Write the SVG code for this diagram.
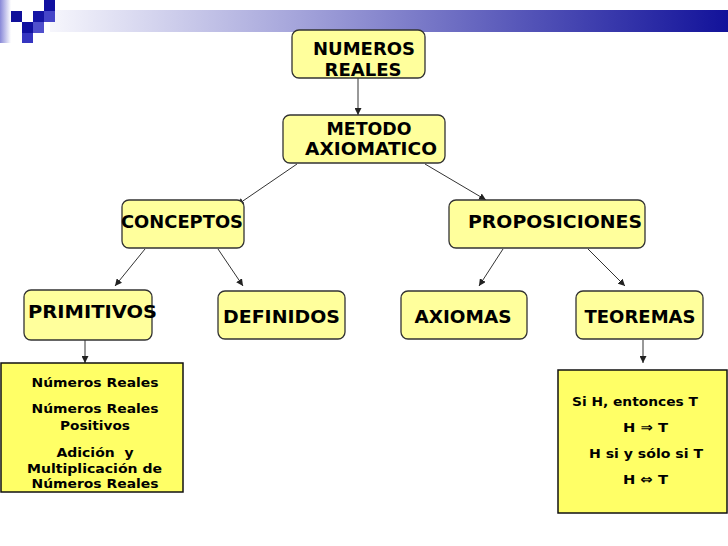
<svg xmlns="http://www.w3.org/2000/svg" width="728" height="546" viewBox="0 0 728 546">
<defs>
<linearGradient id="bar" x1="0" y1="0" x2="1" y2="0">
<stop offset="0" stop-color="#f6f6fc"/>
<stop offset="0.35" stop-color="#a8a8dc"/>
<stop offset="0.7" stop-color="#5555b8"/>
<stop offset="1" stop-color="#12129a"/>
</linearGradient>
<linearGradient id="strip" x1="0" y1="0" x2="1" y2="0">
<stop offset="0" stop-color="#8888d8"/>
<stop offset="1" stop-color="#ffffff"/>
</linearGradient>
<marker id="ah" markerUnits="userSpaceOnUse" markerWidth="8" markerHeight="7" refX="7" refY="3.5" orient="auto">
<path d="M0,0 L7,3.5 L0,7 z" fill="#222"/>
</marker>
<style>
.node rect{fill:#ffff9c;stroke:#333;stroke-width:1.3}
.box rect{fill:#ffff66;stroke:#111;stroke-width:1.5}
.t{font-family:"DejaVu Sans","Verdana",sans-serif;font-weight:bold;font-size:18px;fill:#000;text-anchor:middle}
.s{font-family:"DejaVu Sans","Verdana",sans-serif;font-weight:bold;font-size:13px;fill:#000;text-anchor:middle}
.c line{stroke:#333;stroke-width:1;marker-end:url(#ah)}
</style>
</defs>
<rect width="728" height="546" fill="#fff"/>
<g id="header">
<rect x="50" y="10" width="678" height="22" fill="url(#bar)"/>
<rect x="0" y="0" width="11" height="43" fill="url(#strip)"/>
<rect x="11" y="11" width="11" height="11" fill="#10109a"/>
<rect x="22" y="22" width="11" height="11" fill="#1010a0"/>
<rect x="22" y="33" width="11" height="10" fill="#3535c0"/>
<rect x="33" y="11" width="11" height="11" fill="#1515a5"/>
<rect x="33" y="22" width="11" height="11" fill="#5050cc"/>
<rect x="44" y="0" width="11" height="11" fill="#1010a0"/>
<rect x="44" y="11" width="11" height="11" fill="#4545c8"/>
</g>
<g id="connectors" class="c">
<line x1="358" y1="78" x2="358" y2="115"/>
<line x1="297" y1="164" x2="237" y2="205"/>
<line x1="425" y1="164" x2="486" y2="200"/>
<line x1="145" y1="249" x2="115" y2="286"/>
<line x1="218" y1="249" x2="243" y2="286"/>
<line x1="503" y1="249" x2="479" y2="286"/>
<line x1="588" y1="249" x2="625" y2="286"/>
<line x1="85" y1="340" x2="85" y2="363"/>
<line x1="643" y1="340" x2="643" y2="363"/>
</g>
<g id="numeros" class="node">
<rect x="292" y="30" width="133" height="48" rx="7"/>
<text class="t" x="364" y="55" textLength="102" lengthAdjust="spacingAndGlyphs">NUMEROS</text>
<text class="t" x="363" y="76" textLength="77" lengthAdjust="spacingAndGlyphs">REALES</text>
</g>
<g id="metodo" class="node">
<rect x="283" y="115" width="162" height="48" rx="7"/>
<text class="t" x="369" y="135" textLength="85" lengthAdjust="spacingAndGlyphs">METODO</text>
<text class="t" x="371" y="155" textLength="132" lengthAdjust="spacingAndGlyphs">AXIOMATICO</text>
</g>
<g id="conceptos" class="node">
<rect x="122" y="200" width="122" height="48" rx="7"/>
<text class="t" x="182" y="228" textLength="122" lengthAdjust="spacingAndGlyphs">CONCEPTOS</text>
</g>
<g id="proposiciones" class="node">
<rect x="449" y="200" width="196" height="48" rx="7"/>
<text class="t" x="555" y="228" textLength="174" lengthAdjust="spacingAndGlyphs">PROPOSICIONES</text>
</g>
<g id="primitivos" class="node">
<rect x="24" y="290" width="128" height="50" rx="7"/>
<text class="t" x="92.5" y="318" textLength="129" lengthAdjust="spacingAndGlyphs">PRIMITIVOS</text>
</g>
<g id="definidos" class="node">
<rect x="218" y="291" width="127" height="48" rx="7"/>
<text class="t" x="281.5" y="323" textLength="117" lengthAdjust="spacingAndGlyphs">DEFINIDOS</text>
</g>
<g id="axiomas" class="node">
<rect x="401" y="291" width="126" height="48" rx="7"/>
<text class="t" x="463" y="323" textLength="97" lengthAdjust="spacingAndGlyphs">AXIOMAS</text>
</g>
<g id="teoremas" class="node">
<rect x="576" y="291" width="127" height="48" rx="7"/>
<text class="t" x="640" y="323" textLength="111" lengthAdjust="spacingAndGlyphs">TEOREMAS</text>
</g>
<g id="primitivos-detalle" class="box">
<rect x="1" y="363" width="182" height="129"/>
<text class="s" x="95" y="387" textLength="127" lengthAdjust="spacingAndGlyphs">Números Reales</text>
<text class="s" x="95" y="413" textLength="127" lengthAdjust="spacingAndGlyphs">Números Reales</text>
<text class="s" x="95" y="430" textLength="70" lengthAdjust="spacingAndGlyphs">Positivos</text>
<text class="s" x="95" y="457" textLength="77" lengthAdjust="spacingAndGlyphs" xml:space="preserve">Adición  y</text>
<text class="s" x="94.5" y="473" textLength="135" lengthAdjust="spacingAndGlyphs">Multiplicación de</text>
<text class="s" x="95" y="488" textLength="127" lengthAdjust="spacingAndGlyphs">Números Reales</text>
</g>
<g id="teoremas-detalle" class="box">
<rect x="558" y="370" width="169" height="143"/>
<text class="s" x="635" y="406" textLength="126" lengthAdjust="spacingAndGlyphs">Si H, entonces T</text>
<text class="s" x="645.5" y="432" textLength="45" lengthAdjust="spacingAndGlyphs">H ⇒ T</text>
<text class="s" x="646" y="458" textLength="114" lengthAdjust="spacingAndGlyphs">H si y sólo si T</text>
<text class="s" x="645.5" y="484" textLength="45" lengthAdjust="spacingAndGlyphs">H ⇔ T</text>
</g>
</svg>
